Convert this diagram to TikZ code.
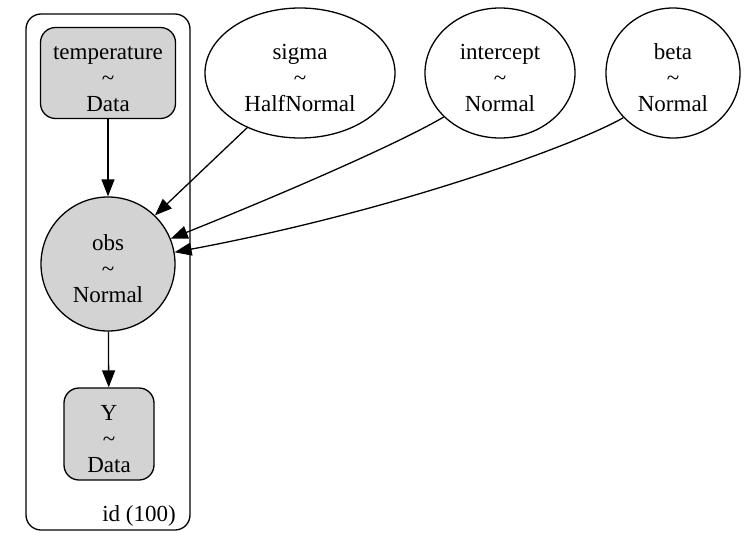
\documentclass[tikz,border=0pt]{standalone}
\usepackage{fontspec}
\setmainfont{Liberation Serif}
\usetikzlibrary{arrows.meta,shapes.geometric}
\definecolor{lgray}{HTML}{D3D3D3}
\newcommand{\vtxt}[2]{\rule{0pt}{24.5pt}#1\\\textasciitilde\\#2}

\begin{document}
\begin{tikzpicture}[x=1pt,y=-1pt,>={Triangle[length=17pt,width=13pt]},line width=1.3pt,
  every node/.style={font=\fontsize{23}{26}\selectfont,align=center,inner sep=0pt},
  databox/.style={draw,fill=lgray,rounded corners=15pt},
  rv/.style={draw,ellipse,minimum height=130pt}]
  \useasboundingbox (0,0) rectangle (753,549);
  % plate
  \node[draw,rounded corners=15pt,minimum width=164pt,minimum height=516pt] (plate) at (108,272) {};
  \node (idlabel) at (139,516) {id (100)};
  % nodes
  \node[databox,minimum width=135pt,minimum height=91pt] (temperature) at (108,73) {\vtxt{temperature}{Data}};
  \node[draw,circle,fill=lgray,minimum size=134pt] (obs) at (108,264) {\vtxt{obs}{Normal}};
  \node[databox,minimum width=90pt,minimum height=92pt] (Y) at (109,434) {\vtxt{Y}{Data}};
  \node[rv,minimum width=190pt] (sigma) at (300,73) {\vtxt{sigma}{HalfNormal}};
  \node[rv,minimum width=150pt] (intercept) at (500,73) {\vtxt{intercept}{Normal}};
  \node[rv,minimum width=134pt] (beta) at (673,73) {\vtxt{beta}{Normal}};
  % edges
  \draw[->] (temperature) -- (obs);
  \draw[->] (obs) -- (Y);
  \draw[->] (sigma.226) -- (obs.46);
  \draw[->] (intercept.218) .. controls (400,143) and (280,195) .. (obs.22);
  \draw[->] (beta.222) .. controls (580,143) and (400,210) .. (obs.10);
\end{tikzpicture}
\end{document}
